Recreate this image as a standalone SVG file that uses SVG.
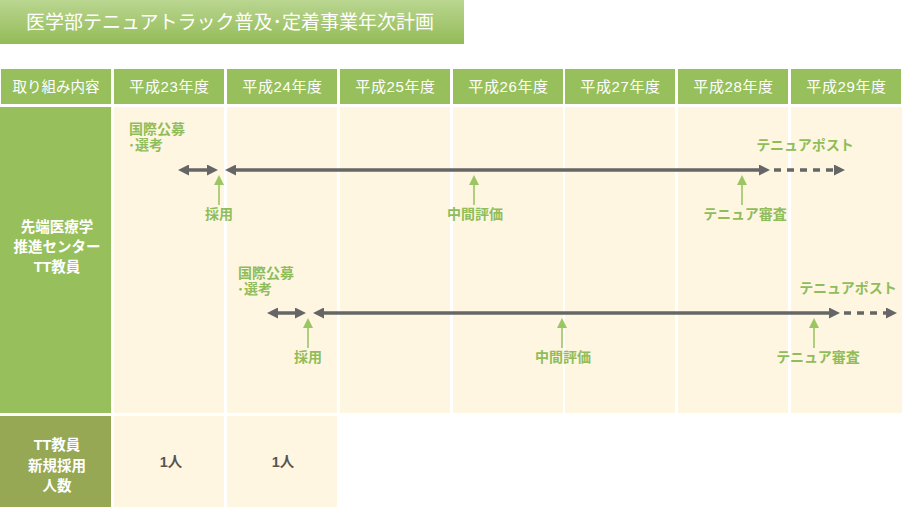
<svg xmlns="http://www.w3.org/2000/svg" width="902" height="507" viewBox="0 0 902 507">
<style>
text{font-family:"Liberation Sans","Noto Sans CJK JP",sans-serif}
.hd{fill:#97bf5c}
.cell{fill:#fff6e1}
.ht{font-size:15px;letter-spacing:0.6px;fill:#fff;text-anchor:middle}
.lt{font-size:14.5px;font-weight:bold;fill:#fff;text-anchor:middle}
.gl{font-size:14px;font-weight:bold;fill:#8fbd5a}
.num{font-size:14.5px;font-weight:bold;fill:#555;text-anchor:middle}
.ga{stroke:#666;stroke-width:3.5;fill:none}
.gd{stroke:#666;stroke-width:3.5;fill:none;stroke-dasharray:7 6}
.up{stroke:#9ac763;stroke-width:1.6;fill:none}
</style>
<defs>
<linearGradient id="tg" x1="0" y1="0" x2="0" y2="1">
<stop offset="0" stop-color="#bad690"/>
<stop offset="1" stop-color="#93bb57"/>
</linearGradient>
<marker id="ah" viewBox="0 0 11 11" refX="0" refY="5.5" markerWidth="11" markerHeight="11" orient="auto-start-reverse" markerUnits="userSpaceOnUse">
<path d="M0,0 L11,5.5 L0,11 z" fill="#666"/>
</marker>
<marker id="gh" viewBox="0 0 10 10" refX="0" refY="5" markerWidth="10" markerHeight="10" orient="auto" markerUnits="userSpaceOnUse">
<path d="M0,0 L10,5 L0,10 z" fill="#9ac763"/>
</marker>
</defs>

<g id="title">
<rect x="0" y="0" width="464" height="44" fill="url(#tg)"/>
<text x="230" y="28.5" font-size="19" fill="#fff" text-anchor="middle">医学部テニュアトラック普及･定着事業年次計画</text>
</g>

<g id="header">
<rect class="hd" x="1" y="69" width="110" height="35"/>
<rect class="hd" x="114" y="69" width="110" height="35"/>
<rect class="hd" x="227" y="69" width="110" height="35"/>
<rect class="hd" x="340" y="69" width="110" height="35"/>
<rect class="hd" x="453" y="69" width="110" height="35"/>
<rect class="hd" x="565" y="69" width="110" height="35"/>
<rect class="hd" x="678" y="69" width="110" height="35"/>
<rect class="hd" x="791" y="69" width="110" height="35"/>
<text class="ht" x="56" y="92" style="font-size:14.5px;letter-spacing:0">取り組み内容</text>
<text class="ht" x="169.5" y="92">平成23年度</text>
<text class="ht" x="282.5" y="92">平成24年度</text>
<text class="ht" x="395.5" y="92">平成25年度</text>
<text class="ht" x="508.5" y="92">平成26年度</text>
<text class="ht" x="620.5" y="92">平成27年度</text>
<text class="ht" x="733.5" y="92">平成28年度</text>
<text class="ht" x="846.5" y="92">平成29年度</text>
</g>

<g id="row1">
<rect x="0" y="107" width="111" height="306" fill="#97bf5c"/>
<rect class="cell" x="114" y="107" width="110" height="306"/>
<rect class="cell" x="227" y="107" width="110" height="306"/>
<rect class="cell" x="340" y="107" width="110" height="306"/>
<rect class="cell" x="453" y="107" width="110" height="306"/>
<rect class="cell" x="565" y="107" width="110" height="306"/>
<rect class="cell" x="678" y="107" width="110" height="306"/>
<rect class="cell" x="791" y="107" width="111" height="306"/>
<text class="lt" x="57" y="232">先端医療学<tspan x="57" dy="20">推進センター</tspan><tspan x="57" dy="20">TT教員</tspan></text>
</g>

<g id="row2">
<rect x="0" y="416" width="111" height="91" fill="#96a853"/>
<rect class="cell" x="114" y="416" width="110" height="91"/>
<rect class="cell" x="227" y="416" width="110" height="91"/>
<text class="lt" x="57" y="450">TT教員<tspan x="57" dy="21">新規採用</tspan><tspan x="57" dy="20">人数</tspan></text>
<text class="num" x="171" y="467">1人</text>
<text class="num" x="283" y="467">1人</text>
</g>

<g id="labels">
<text class="gl" x="129" y="134">国際公募<tspan x="128" dy="16">･選考</tspan></text>
<text class="gl" x="219" y="219" text-anchor="middle">採用</text>
<text class="gl" x="475" y="219" text-anchor="middle">中間評価</text>
<text class="gl" x="745" y="219" text-anchor="middle">テニュア審査</text>
<text class="gl" x="805" y="150" text-anchor="middle">テニュアポスト</text>

<text class="gl" x="238" y="278">国際公募<tspan x="237" dy="16">･選考</tspan></text>
<text class="gl" x="308" y="362" text-anchor="middle">採用</text>
<text class="gl" x="563" y="362" text-anchor="middle">中間評価</text>
<text class="gl" x="818" y="362" text-anchor="middle">テニュア審査</text>
<text class="gl" x="848" y="293" text-anchor="middle">テニュアポスト</text>
</g>

<g id="connectors">
<line class="ga" x1="189" y1="170" x2="207" y2="170" marker-start="url(#ah)" marker-end="url(#ah)"/>
<line class="ga" x1="236" y1="170" x2="759" y2="170" marker-start="url(#ah)" marker-end="url(#ah)"/>
<line class="gd" x1="774" y1="170" x2="834" y2="170" marker-end="url(#ah)"/>
<line class="up" x1="219" y1="205" x2="219" y2="185" marker-end="url(#gh)"/>
<line class="up" x1="474" y1="205" x2="474" y2="185" marker-end="url(#gh)"/>
<line class="up" x1="742" y1="205" x2="742" y2="185" marker-end="url(#gh)"/>

<line class="ga" x1="278" y1="313" x2="295" y2="313" marker-start="url(#ah)" marker-end="url(#ah)"/>
<line class="ga" x1="324" y1="313" x2="829" y2="313" marker-start="url(#ah)" marker-end="url(#ah)"/>
<line class="gd" x1="844" y1="313" x2="886" y2="313" marker-end="url(#ah)"/>
<line class="up" x1="308" y1="348" x2="308" y2="328" marker-end="url(#gh)"/>
<line class="up" x1="562" y1="348" x2="562" y2="328" marker-end="url(#gh)"/>
<line class="up" x1="814" y1="348" x2="814" y2="328" marker-end="url(#gh)"/>
</g>
</svg>
